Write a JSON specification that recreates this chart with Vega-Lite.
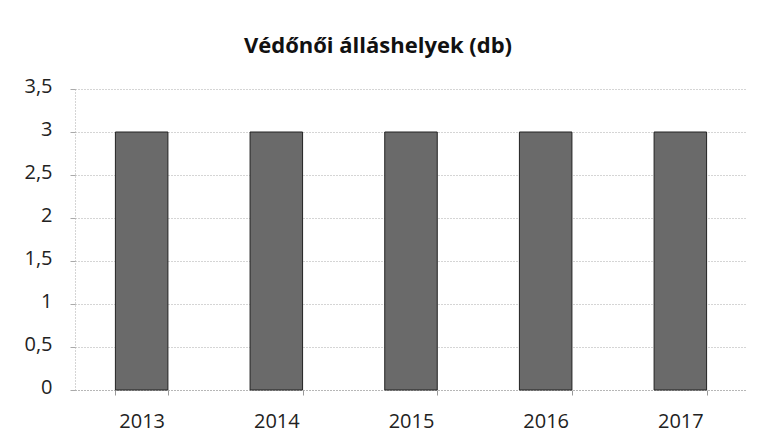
{
  "$schema": "https://vega.github.io/schema/vega-lite/v6.json",
  "width": 672,
  "height": 301,
  "autosize": {"type": "none"},
  "padding": {"left": 75, "top": 89, "right": 17, "bottom": 48},
  "background": "white",
  "title": {
    "text": "Védőnői álláshelyek (db)",
    "font": "Open Sans",
    "fontSize": 22,
    "fontWeight": "bold",
    "color": "#111",
    "anchor": "middle",
    "dx": -33,
    "offset": 18
  },
  "data": {
    "values": [
      {"year": "2013", "value": 3},
      {"year": "2014", "value": 3},
      {"year": "2015", "value": 3},
      {"year": "2016", "value": 3},
      {"year": "2017", "value": 3}
    ]
  },
  "mark": {"type": "bar", "fill": "#6a6a6a", "stroke": "#222", "strokeWidth": 1},
  "encoding": {
    "x": {
      "field": "year",
      "type": "nominal",
      "scale": {"paddingInner": 0.61, "paddingOuter": 0.3},
      "axis": {
        "title": null,
        "labelAngle": 0,
        "labelFont": "Open Sans",
        "labelFontSize": 20,
        "labelColor": "#222",
        "labelPadding": 16,
        "tickBand": "extent",
        "tickSize": 5,
        "tickColor": "#999",
        "domainColor": "#999",
        "domainDash": [1, 2],
        "grid": false
      }
    },
    "y": {
      "field": "value",
      "type": "quantitative",
      "scale": {"domain": [0, 3.5], "nice": false},
      "axis": {
        "title": null,
        "values": [0, 0.5, 1, 1.5, 2, 2.5, 3, 3.5],
        "labelExpr": "replace(format(datum.value, '~g'), '.', ',')",
        "labelFont": "Open Sans",
        "labelFontSize": 20,
        "labelColor": "#222",
        "labelPadding": 18,
        "labelOffset": -3,
        "tickSize": 5,
        "tickColor": "#aaa",
        "domainColor": "#aaa",
        "domainDash": [1, 2],
        "grid": true,
        "gridColor": "#aaa",
        "gridDash": [1, 2]
      }
    }
  },
  "config": {"view": {"stroke": null}}
}
